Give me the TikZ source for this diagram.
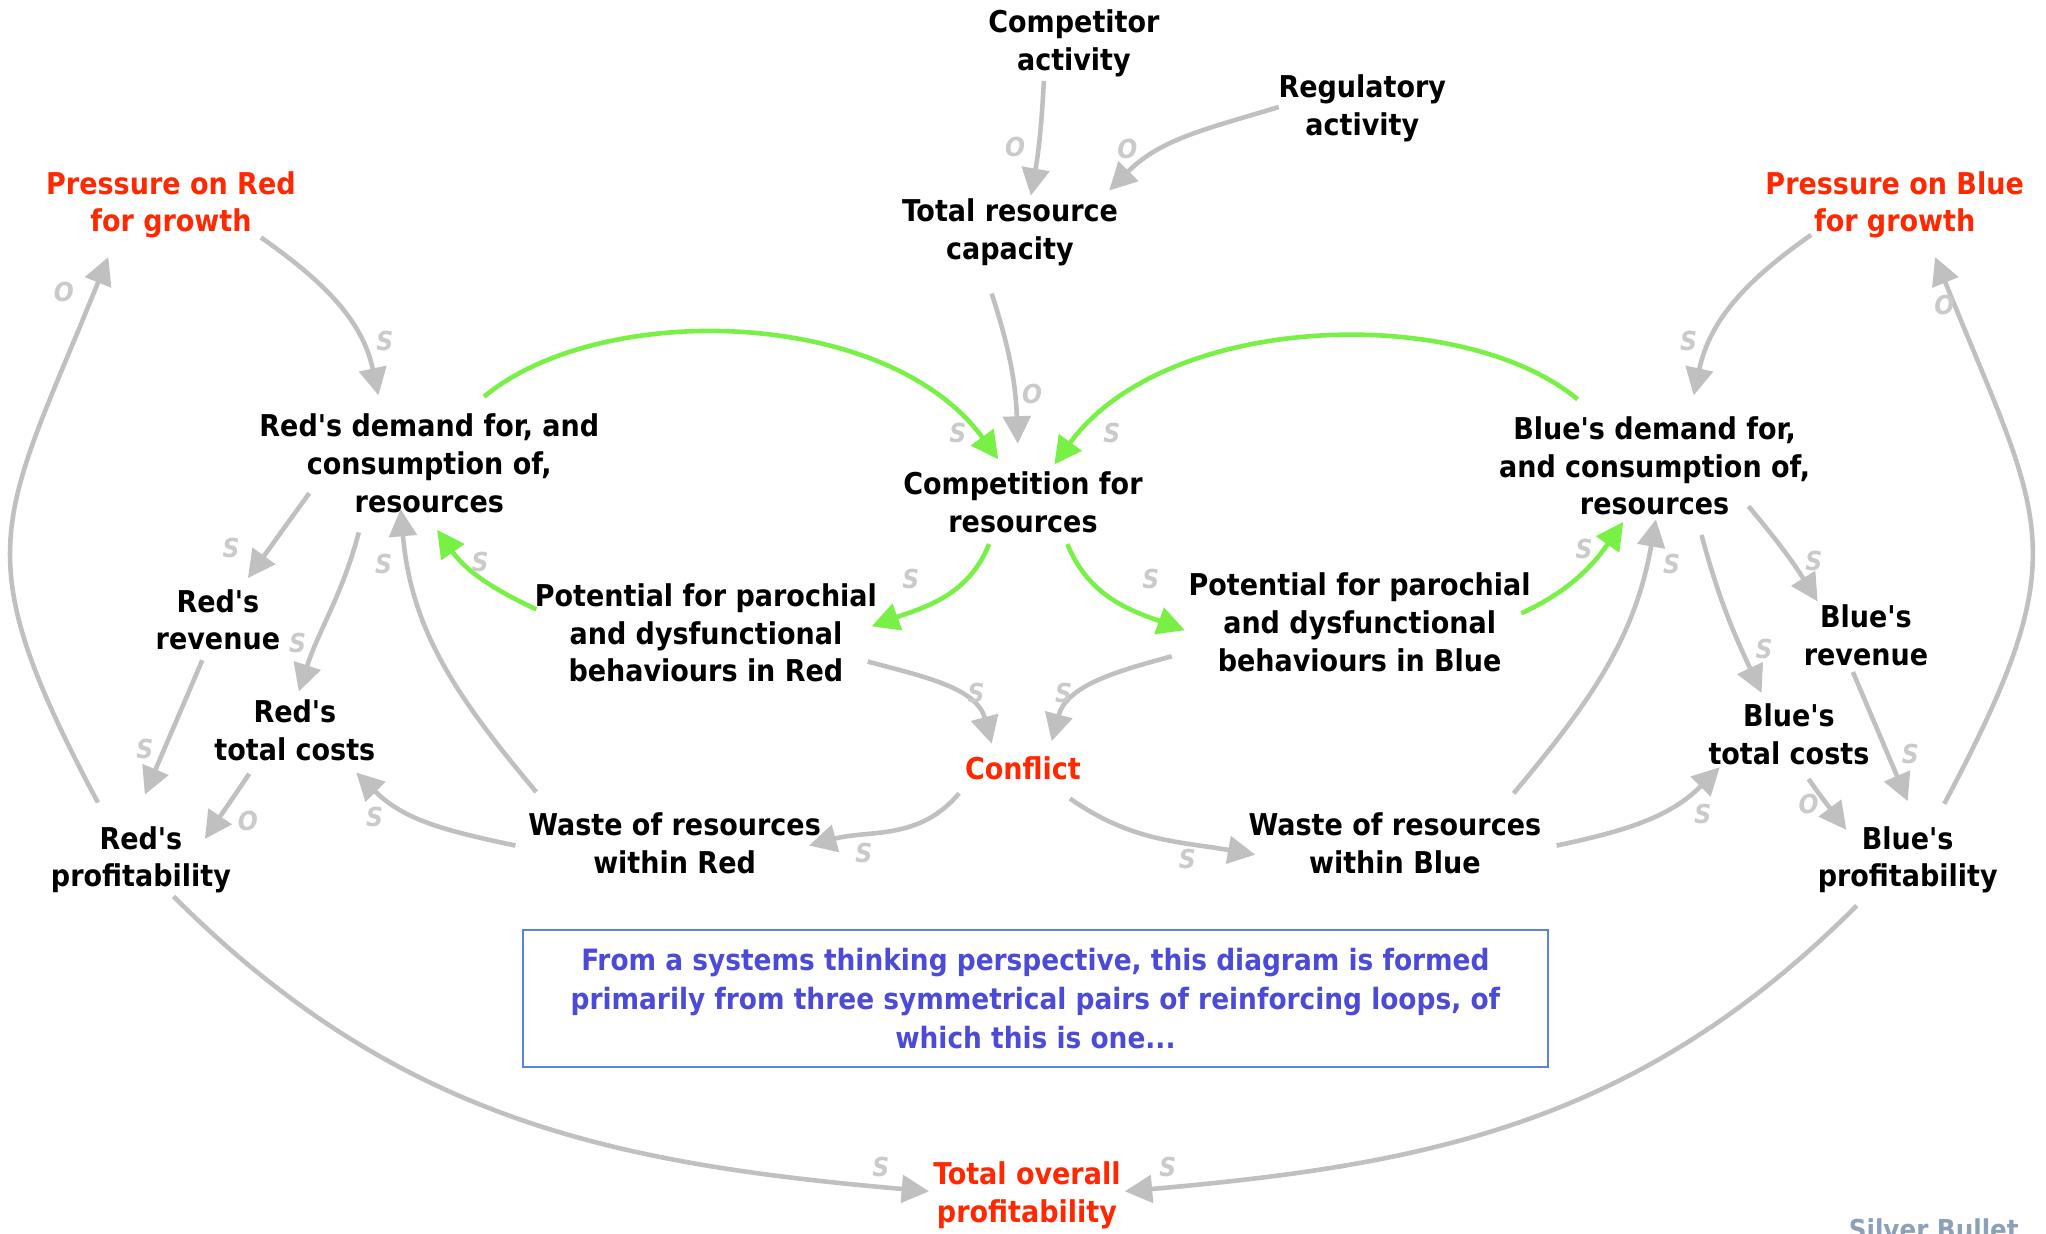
\documentclass[tikz,border=0pt]{standalone}
\usepackage{fontspec}
\setmainfont{DejaVu Sans Condensed}[Ligatures=TeXOff]
\usetikzlibrary{arrows.meta}
\definecolor{linkgrey}{RGB}{192,192,192}
\definecolor{labgrey}{RGB}{202,202,202}
\definecolor{hotred}{RGB}{255,40,0}
\definecolor{loopgreen}{RGB}{120,240,70}
\definecolor{boxblue}{RGB}{90,130,225}
\definecolor{noteblue}{RGB}{75,75,215}
\definecolor{brandgrey}{RGB}{140,160,185}
\begin{document}
\begin{tikzpicture}[x=1pt,y=1pt,
  var/.style={font=\bfseries\fontsize{23}{29}\selectfont, align=center, inner sep=0pt, text=black},
  hot/.style={var, text=hotred},
  link/.style={draw=linkgrey, line width=3.5pt, -{Triangle[length=21pt,width=21pt]}},
  plink/.style={link, draw=loopgreen},
  lab/.style={font=\bfseries\itshape\fontsize{20}{20}\selectfont, text=labgrey, inner sep=0pt},
]
\fill[white] (0,0) rectangle (1568,-945);
\clip (0,0) rectangle (1568,-945);

% variables
\node[var] (compact) at (823,-33)  {Competitor\\activity};
\node[var] (reg)     at (1044,-83) {Regulatory\\activity};
\node[var] (cap)     at (774,-178) {Total resource\\capacity};
\node[hot] (pRed)    at (131,-157) {Pressure on Red\\for growth};
\node[hot] (pBlue)   at (1452,-157) {Pressure on Blue\\for growth};
\node[var] (dRed)    at (329,-355) {Red's demand for, and\\consumption of,\\resources};
\node[var] (comp)    at (784,-385) {Competition for\\resources};
\node[var] (dBlue)   at (1268,-357) {Blue's demand for,\\and consumption of,\\resources};
\node[var] (revR)    at (167,-475) {Red's\\revenue};
\node[var] (potR)    at (541,-485) {Potential for parochial\\and dysfunctional\\behaviours in Red};
\node[var] (potB)    at (1042,-477) {Potential for parochial\\and dysfunctional\\behaviours in Blue};
\node[var] (revB)    at (1430,-487) {Blue's\\revenue};
\node[var] (costR)   at (226,-560) {Red's\\total costs};
\node[var] (costB)   at (1371,-563) {Blue's\\total costs};
\node[hot] (conf)    at (784,-589) {Conflict};
\node[var] (profR)   at (108,-659) {Red's\\profitability};
\node[var] (wasteR)  at (517,-646) {Waste of resources\\within Red};
\node[var] (wasteB)  at (1069,-646) {Waste of resources\\within Blue};
\node[var] (profB)   at (1462,-659) {Blue's\\profitability};
\node[hot] (total)   at (787,-916) {Total overall\\profitability};

% explanatory note
\node[draw=boxblue, line width=1.5pt, minimum width=785, minimum height=105,
      font=\bfseries\fontsize{22.5}{30}\selectfont, text=noteblue, align=center]
  (note) at (793.5,-765.5)
  {From a systems thinking perspective, this diagram is formed\\
   primarily from three symmetrical pairs of reinforcing loops, of\\
   which this is one...};

\node[font=\bfseries\fontsize{21}{25}\selectfont, text=brandgrey, anchor=north, inner sep=0pt]
  (brand) at (1482,-934) {Silver Bullet};

% external pressures on capacity
\draw[link] ([shift={(-23,-29)}]compact.center) to[out=-93,in=80] ([shift={(16,28)}]cap.center) node[lab] at (778,-113) {O};
\draw[link] ([shift={(-64,1)}]reg.center) to[out=197,in=45] ([shift={(76,32)}]cap.center) node[lab] at (864,-114) {O};
\draw[link] ([shift={(-14,-47)}]cap.center) to[out=-72,in=92] ([shift={(-4,45)}]comp.center) node[lab] at (791,-302) {O};

% growth pressure loops
\draw[link] ([shift={(69,-25)}]pRed.center) to[out=-35,in=102] ([shift={(-39,52)}]dRed.center) node[lab] at (295,-261) {S};
\draw[link] ([shift={(-33,44)}]profR.center) to[out=118,in=-112,looseness=1.35] ([shift={(-48,-40)}]pRed.center) node[lab] at (49,-224) {O};
\draw[link] ([shift={(-64,-23)}]pBlue.center) to[out=215,in=78] ([shift={(30,54)}]dBlue.center) node[lab] at (1294,-261) {S};
\draw[link] ([shift={(28,43)}]profB.center) to[out=62,in=-68,looseness=1.35] ([shift={(31,-40)}]pBlue.center) node[lab] at (1490,-234) {O};

% reinforcing loops through competition
\draw[plink] ([shift={(42,51)}]dRed.center) .. controls +(89,74) and +(-85,117) .. ([shift={(-19,33)}]comp.center) node[lab] at (734,-332) {S};
\draw[plink] ([shift={(-59,51)}]dBlue.center) .. controls +(-89,74) and +(85,117) .. ([shift={(24,29)}]comp.center) node[lab] at (852,-332) {S};
\draw[plink] ([shift={(-26,-32)}]comp.center) to[out=-112,in=20] ([shift={(127,5)}]potR.center) node[lab] at (698,-444) {S};
\draw[plink] ([shift={(34,-32)}]comp.center) to[out=-68,in=160] ([shift={(-134,-6)}]potB.center) node[lab] at (882,-444) {S};
\draw[plink] ([shift={(-130,18)}]potR.center) to[out=155,in=-55] ([shift={(6,-51)}]dRed.center) node[lab] at (368,-431) {S};
\draw[plink] ([shift={(124,7)}]potB.center) to[out=25,in=-125] ([shift={(-24,-43)}]dBlue.center) node[lab] at (1214,-421) {S};

% Red's economics
\draw[link] ([shift={(-92,-23)}]dRed.center) to[out=-126,in=54] ([shift={(23,32)}]revR.center) node[lab] at (177,-420) {S};
\draw[link] ([shift={(-54,-53)}]dRed.center) to[out=-105,in=72] ([shift={(3,30)}]costR.center) node[lab] at (228,-493) {S};
\draw[link] ([shift={(-12,-31)}]revR.center) to[out=-113,in=67] ([shift={(3,50)}]profR.center) node[lab] at (111,-574) {S};
\draw[link] ([shift={(-35,-33)}]costR.center) to[out=-124,in=56] ([shift={(49,16)}]profR.center) node[lab] at (190,-629) {O};
\draw[link] ([shift={(-122,-2)}]wasteR.center) to[out=168,in=-45] ([shift={(47,-32)}]costR.center) node[lab] at (287,-626) {S};
\draw[link] ([shift={(-106,39)}]wasteR.center) to[out=130,in=-85] ([shift={(-22,-35)}]dRed.center) node[lab] at (294,-432) {S};

% conflict
\draw[link] ([shift={(124,-22)}]potR.center) to[out=-15,in=105] ([shift={(-24,19)}]conf.center) node[lab] at (748,-531) {S};
\draw[link] ([shift={(-144,-26)}]potB.center) to[out=195,in=75] ([shift={(22,21)}]conf.center) node[lab] at (815,-531) {S};
\draw[link] ([shift={(-49,-19)}]conf.center) to[out=230,in=15] ([shift={(103,-2)}]wasteR.center) node[lab] at (662,-654) {S};
\draw[link] ([shift={(36,-23)}]conf.center) to[out=-35,in=170] ([shift={(-107,-9)}]wasteB.center) node[lab] at (910,-658) {S};

% Blue's economics
\draw[link] ([shift={(124,-2)}]wasteB.center) to[out=12,in=-135] ([shift={(-53,-25)}]costB.center) node[lab] at (1305,-624) {S};
\draw[link] ([shift={(91,38)}]wasteB.center) to[out=50,in=-100] ([shift={(1,-41)}]dBlue.center) node[lab] at (1281,-432) {S};
\draw[link] ([shift={(72,-31)}]dBlue.center) to[out=-50,in=122] ([shift={(-37,26)}]revB.center) node[lab] at (1390,-430) {S};
\draw[link] ([shift={(36,-53)}]dBlue.center) to[out=-75,in=115] ([shift={(-21,32)}]costB.center) node[lab] at (1352,-497) {S};
\draw[link] ([shift={(-10,-28)}]revB.center) to[out=-67,in=113] ([shift={(0,45)}]profB.center) node[lab] at (1464,-578) {S};
\draw[link] ([shift={(15,-34)}]costB.center) to[out=-55,in=127] ([shift={(-47,23)}]profB.center) node[lab] at (1386,-616) {O};

% overall profitability
\draw[link] ([shift={(25,-28)}]profR.center) to[out=-45,in=175] ([shift={(-75,3)}]total.center) node[lab] at (675,-894) {S};
\draw[link] ([shift={(-39,-35)}]profB.center) to[out=-135,in=5] ([shift={(75,3)}]total.center) node[lab] at (895,-894) {S};
\end{tikzpicture}
\end{document}
